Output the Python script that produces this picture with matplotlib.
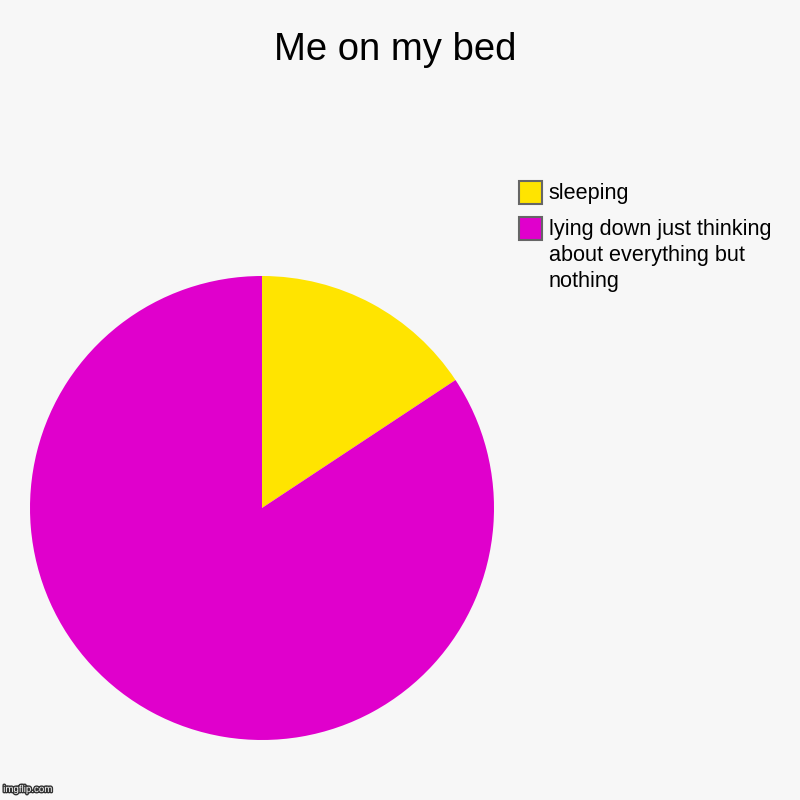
import matplotlib.pyplot as plt
import matplotlib.patheffects as pe
from matplotlib.patches import Rectangle

labels = ['sleeping', 'lying down just thinking\nabout everything but\nnothing']
values = [15.7, 84.3]
colors = ['#ffe400', '#e000cc']

plt.rcParams['font.family'] = ['Liberation Sans', 'DejaVu Sans']

fig = plt.figure(figsize=(8, 8), dpi=100)
fig.patch.set_facecolor('#f7f7f7')

ax = fig.add_axes([0.0375, 0.075, 0.58, 0.58])
ax.pie(values, colors=colors, startangle=90, counterclock=False,
       wedgeprops=dict(linewidth=0))
ax.set_aspect('equal')
ax.set_xlim(-1, 1)
ax.set_ylim(-1, 1)

fig.text(0.494, 0.938, 'Me on my bed', ha='center', va='center', fontsize=27.5)

# legend drawn by hand to match the layout
tops = [0.774, 0.729]
for lab, col, top in zip(labels, colors, tops):
    fig.patches.append(Rectangle((0.649, top - 0.029), 0.029, 0.029,
                                 transform=fig.transFigure, facecolor=col,
                                 edgecolor='#666666', linewidth=1.5))
    fig.text(0.686, top - 0.003, lab, ha='left', va='top', fontsize=15.6,
             linespacing=1.3)

fig.text(0.004, 0.01, 'imgflip.com', fontsize=7, color='white',
         path_effects=[pe.withStroke(linewidth=2, foreground='#333333')])

fig.savefig('out.png', dpi=100, facecolor=fig.get_facecolor())
